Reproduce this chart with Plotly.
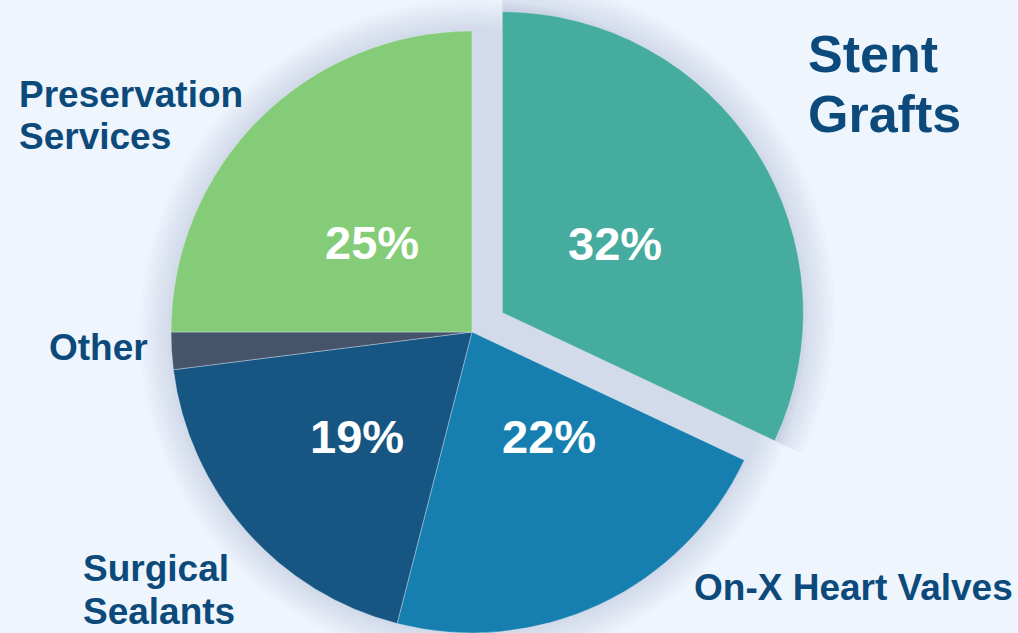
import math
import plotly.graph_objects as go

# Revenue mix by product line (percent of total)
labels = ["Stent Grafts", "On-X Heart Valves", "Surgical Sealants", "Other", "Preservation Services"]
shares = [32, 22, 19, 2, 25]
colors = ["#45AC9F", "#167FB0", "#175683", "#45536B", "#84CC78"]
exploded = "Stent Grafts"

W, H = 1018, 633
BG = "#EEF5FC"
INK = "#0C4A7B"
FONT = "Liberation Sans, Arial, sans-serif"

R = 301                 # pie radius, px
CX, CY = 472, 332       # pie centre, px
PULL_PX = 36            # how far the exploded slice is pulled out, px


def px_x(x):
    return x / W


def px_y(y):
    return 1 - y / H


def domain(cx, cy, r):
    return dict(x=[max(0, (cx - r) / W), min(1, (cx + r) / W)],
                y=[max(0, 1 - (cy + r) / H), min(1, 1 - (cy - r) / H)])


total = sum(shares)
idx = labels.index(exploded)
start = sum(shares[:idx]) / total * 360
span = shares[idx] / total * 360
mid = math.radians(start + span / 2)
PX = CX + PULL_PX * math.sin(mid)
PY = CY - PULL_PX * math.cos(mid)

clear = "rgba(0,0,0,0)"
edge = "rgba(230,240,250,0.45)"

main_colors = [clear if l == exploded else c for l, c in zip(labels, colors)]
main_lw = [0 if l == exploded else 0.8 for l in labels]
pulled_colors = [c if l == exploded else clear for l, c in zip(labels, colors)]
pulled_lw = [0.8 if l == exploded else 0 for l in labels]

common = dict(
    labels=labels,
    values=shares,
    sort=False,
    direction="clockwise",
    rotation=0,
    showlegend=False,
    textinfo="none",
    hoverinfo="label+percent",
)

fig = go.Figure()
fig.add_trace(go.Pie(
    **common,
    domain=domain(CX, CY, R),
    marker=dict(colors=main_colors, line=dict(color=edge, width=main_lw)),
))
fig.add_trace(go.Pie(
    **common,
    domain=domain(PX, PY, R),
    marker=dict(colors=pulled_colors, line=dict(color=edge, width=pulled_lw)),
))

# soft drop shadow behind the pie
shapes = []
for k in range(1, 10):
    rr = R + 3.5 * k
    shapes.append(dict(
        type="circle", xref="paper", yref="paper", layer="below",
        x0=px_x(CX - rr), x1=px_x(CX + rr), y0=px_y(CY + rr), y1=px_y(CY - rr),
        fillcolor="rgba(90,110,145,0.02)", line=dict(width=0),
    ))
    a0 = math.radians(start)
    a1 = math.radians(start + span)
    pts = [(PX, PY)]
    n = 60
    for i in range(n + 1):
        a = a0 + (a1 - a0) * i / n
        pts.append((PX + rr * math.sin(a), PY - rr * math.cos(a)))
    path = "M " + " L ".join(f"{px_x(x):.5f},{px_y(y):.5f}" for x, y in pts) + " Z"
    shapes.append(dict(
        type="path", xref="paper", yref="paper", layer="below", path=path,
        fillcolor="rgba(90,110,145,0.02)", line=dict(width=0),
    ))

annotations = []


def add_text(text, x, y, size, color, xanchor="left"):
    annotations.append(dict(
        text=text, x=px_x(x), y=px_y(y), xref="paper", yref="paper",
        xanchor=xanchor, yanchor="middle", align="left", showarrow=False,
        font=dict(family=FONT, size=size, color=color, weight="bold"),
    ))


# category labels placed around the pie: (left x, centre y of each line, font size)
label_pos = {
    "Stent Grafts": (806, [54, 114], 52),
    "Preservation Services": (17, [95, 137], 37),
    "Other": (47, [347], 37),
    "Surgical Sealants": (81, [568, 611], 37),
    "On-X Heart Valves": (692, [587], 37),
}
for name in labels:
    x, ys, size = label_pos[name]
    words = name.split(" ")
    lines = [name] if len(ys) == 1 else [words[0], " ".join(words[1:])]
    for line, y in zip(lines, ys):
        add_text(line, x, y, size, INK)

# percentage labels inside the slices (centre positions, px)
pct_pos = {
    "Stent Grafts": (615, 243),
    "On-X Heart Valves": (549, 436),
    "Surgical Sealants": (357, 436),
    "Preservation Services": (372, 242),
}
for name, v in zip(labels, shares):
    if name in pct_pos:
        x, y = pct_pos[name]
        add_text(f"{round(v / total * 100)}%", x, y, 47, "white", xanchor="center")

fig.update_layout(
    width=W, height=H,
    margin=dict(l=0, r=0, t=0, b=0),
    paper_bgcolor=BG, plot_bgcolor=BG,
    shapes=shapes,
    annotations=annotations,
)

fig.write_html("out.html")
